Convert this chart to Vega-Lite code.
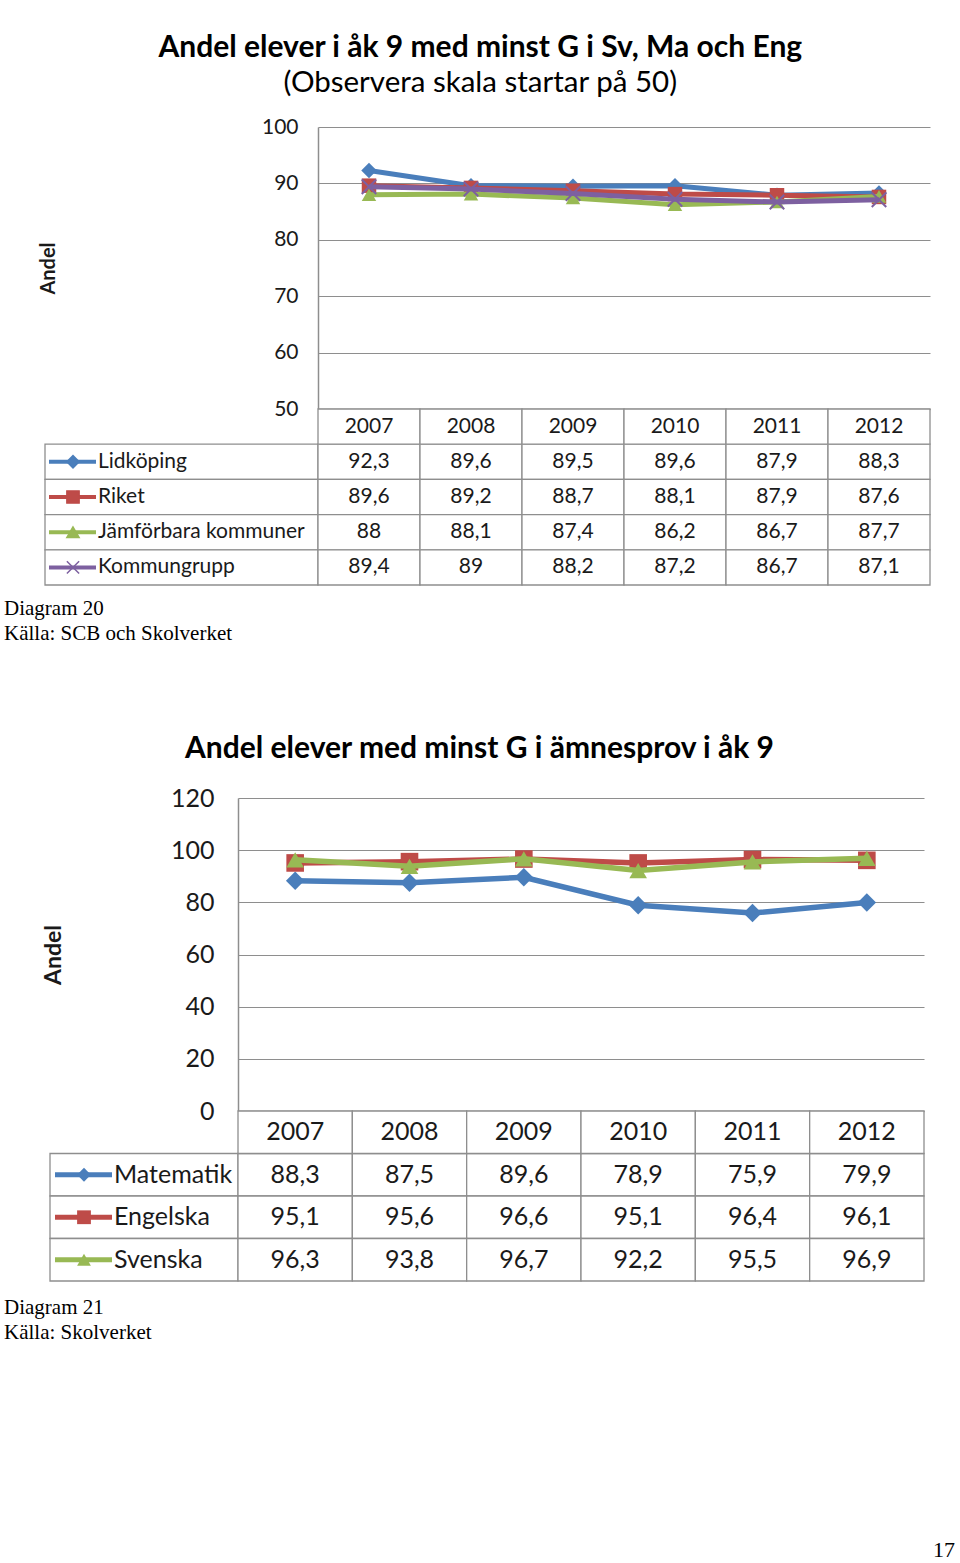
{
  "$schema": "https://vega.github.io/schema/vega-lite/v6.json",
  "background": "white",
  "padding": {"left": 4, "top": 32, "right": 0, "bottom": 0},
  "config": {
    "font": "Lato",
    "view": {"stroke": null},
    "axis": {"labelFont": "Lato", "labelColor": "#1a1a1a", "titleFont": "Lato", "titleColor": "#1a1a1a", "domainColor": "#8e8e8e", "gridColor": "#8e8e8e", "tickColor": "#8e8e8e"},
    "title": {"font": "Lato", "color": "#000000"},
    "locale": {"number": {"decimal": ",", "thousands": " ", "grouping": [3], "currency": ["", " kr"]}}
  },
  "datasets": {
    "c1": [
      {"series": "Lidköping", "year": 2007, "value": 92.3},
      {"series": "Lidköping", "year": 2008, "value": 89.6},
      {"series": "Lidköping", "year": 2009, "value": 89.5},
      {"series": "Lidköping", "year": 2010, "value": 89.6},
      {"series": "Lidköping", "year": 2011, "value": 87.9},
      {"series": "Lidköping", "year": 2012, "value": 88.3},
      {"series": "Riket", "year": 2007, "value": 89.6},
      {"series": "Riket", "year": 2008, "value": 89.2},
      {"series": "Riket", "year": 2009, "value": 88.7},
      {"series": "Riket", "year": 2010, "value": 88.1},
      {"series": "Riket", "year": 2011, "value": 87.9},
      {"series": "Riket", "year": 2012, "value": 87.6},
      {"series": "Jämförbara kommuner", "year": 2007, "value": 88},
      {"series": "Jämförbara kommuner", "year": 2008, "value": 88.1},
      {"series": "Jämförbara kommuner", "year": 2009, "value": 87.4},
      {"series": "Jämförbara kommuner", "year": 2010, "value": 86.2},
      {"series": "Jämförbara kommuner", "year": 2011, "value": 86.7},
      {"series": "Jämförbara kommuner", "year": 2012, "value": 87.7},
      {"series": "Kommungrupp", "year": 2007, "value": 89.4},
      {"series": "Kommungrupp", "year": 2008, "value": 89},
      {"series": "Kommungrupp", "year": 2009, "value": 88.2},
      {"series": "Kommungrupp", "year": 2010, "value": 87.2},
      {"series": "Kommungrupp", "year": 2011, "value": 86.7},
      {"series": "Kommungrupp", "year": 2012, "value": 87.1}
    ],
    "s1": [
      {"series": "Lidköping"},
      {"series": "Riket"},
      {"series": "Jämförbara kommuner"},
      {"series": "Kommungrupp"}
    ],
    "c2": [
      {"series": "Matematik", "year": 2007, "value": 88.3},
      {"series": "Matematik", "year": 2008, "value": 87.5},
      {"series": "Matematik", "year": 2009, "value": 89.6},
      {"series": "Matematik", "year": 2010, "value": 78.9},
      {"series": "Matematik", "year": 2011, "value": 75.9},
      {"series": "Matematik", "year": 2012, "value": 79.9},
      {"series": "Engelska", "year": 2007, "value": 95.1},
      {"series": "Engelska", "year": 2008, "value": 95.6},
      {"series": "Engelska", "year": 2009, "value": 96.6},
      {"series": "Engelska", "year": 2010, "value": 95.1},
      {"series": "Engelska", "year": 2011, "value": 96.4},
      {"series": "Engelska", "year": 2012, "value": 96.1},
      {"series": "Svenska", "year": 2007, "value": 96.3},
      {"series": "Svenska", "year": 2008, "value": 93.8},
      {"series": "Svenska", "year": 2009, "value": 96.7},
      {"series": "Svenska", "year": 2010, "value": 92.2},
      {"series": "Svenska", "year": 2011, "value": 95.5},
      {"series": "Svenska", "year": 2012, "value": 96.9}
    ],
    "s2": [
      {"series": "Matematik"},
      {"series": "Engelska"},
      {"series": "Svenska"}
    ]
  },
  "columns": 1,
  "align": "none",
  "spacing": 90,
  "concat": [
    {
      "title": {"text": "Andel elever i åk 9 med minst G i Sv, Ma och Eng", "subtitle": "(Observera skala startar på 50)", "fontSize": 30, "fontWeight": "bold", "subtitleFont": "Lato", "subtitleFontSize": 29.5, "subtitleFontWeight": "normal", "subtitleColor": "#000000", "subtitlePadding": 6, "anchor": "middle", "offset": 19, "dx": 13},
      "columns": 2,
      "spacing": 0,
      "bounds": "flush",
      "align": "each",
      "concat": [
        {"width": 273, "height": 282, "data": {"values": [{}]}, "mark": {"type": "point", "opacity": 0}},
        {
          "width": 612, "height": 282,
          "data": {"name": "c1"},
          "encoding": {
            "x": {"field": "year", "type": "ordinal", "scale": {"type": "band", "paddingInner": 0, "paddingOuter": 0}, "axis": {"title": null, "labels": false, "ticks": false, "domainColor": "#8e8e8e", "domainWidth": 1.5}},
            "y": {"field": "value", "type": "quantitative", "scale": {"domain": [50, 100], "nice": false, "zero": false}, "axis": {"values": [50, 60, 70, 80, 90, 100], "ticks": false, "labelPadding": 20, "labelFontSize": 21, "grid": true, "gridWidth": 1.2, "domainWidth": 1.5, "title": "Andel", "titleFontSize": 20, "titleFontWeight": "bold", "titlePadding": 203}},
            "color": {"field": "series", "type": "nominal", "scale": {"domain": ["Lidköping", "Riket", "Jämförbara kommuner", "Kommungrupp"], "range": ["#4a7ebb", "#be4b48", "#98b954", "#7d60a0"]}, "legend": null}
          },
          "layer": [
            {"transform": [{"filter": {"field": "series", "equal": "Lidköping"}}], "mark": {"type": "line", "strokeWidth": 5}},
            {"transform": [{"filter": {"field": "series", "equal": "Lidköping"}}], "mark": {"type": "point", "shape": "diamond", "filled": true, "size": 240, "opacity": 1}},
            {"transform": [{"filter": {"field": "series", "equal": "Riket"}}], "mark": {"type": "line", "strokeWidth": 5}},
            {"transform": [{"filter": {"field": "series", "equal": "Riket"}}], "mark": {"type": "point", "shape": "square", "filled": true, "size": 210, "opacity": 1}},
            {"transform": [{"filter": {"field": "series", "equal": "Jämförbara kommuner"}}], "mark": {"type": "line", "strokeWidth": 5}},
            {"transform": [{"filter": {"field": "series", "equal": "Jämförbara kommuner"}}], "mark": {"type": "point", "shape": "triangle-up", "filled": true, "size": 210, "opacity": 1}},
            {"transform": [{"filter": {"field": "series", "equal": "Kommungrupp"}}], "mark": {"type": "line", "strokeWidth": 5}},
            {"transform": [{"filter": {"field": "series", "equal": "Kommungrupp"}}], "mark": {"type": "point", "shape": "M-1,-1L1,1M-1,1L1,-1", "filled": false, "size": 210, "strokeWidth": 2, "opacity": 1}}
          ]
        },
        {
          "width": 273, "height": 176,
          "data": {"name": "s1"},
          "title": {"text": ["Diagram 20", "Källa: SCB och Skolverket"], "orient": "bottom", "anchor": "start", "frame": "group", "dx": -41, "offset": 12, "font": "Liberation Serif", "fontSize": 21, "fontWeight": "normal", "lineHeight": 25, "color": "#000000"},
          "encoding": {
            "y": {"field": "series", "type": "nominal", "scale": {"domain": ["År", "Lidköping", "Riket", "Jämförbara kommuner", "Kommungrupp"], "paddingInner": 0, "paddingOuter": 0}, "axis": null}
          },
          "layer": [
            {"mark": {"type": "rect", "fill": "white", "stroke": "#8e8e8e", "strokeWidth": 1.3}, "encoding": {"x": {"value": 0}, "x2": {"value": "width"}}},
            {"mark": {"type": "rule", "strokeWidth": 4}, "encoding": {"x": {"value": 4}, "x2": {"value": 51}, "color": {"field": "series", "type": "nominal", "scale": {"domain": ["Lidköping", "Riket", "Jämförbara kommuner", "Kommungrupp"], "range": ["#4a7ebb", "#be4b48", "#98b954", "#7d60a0"]}, "legend": null}}},
            {"mark": {"type": "point", "filled": true, "size": 150, "strokeWidth": 1.5, "opacity": 1}, "encoding": {
              "x": {"value": 28},
              "color": {"field": "series", "type": "nominal", "scale": {"domain": ["Lidköping", "Riket", "Jämförbara kommuner", "Kommungrupp"], "range": ["#4a7ebb", "#be4b48", "#98b954", "#7d60a0"]}, "legend": null},
              "stroke": {"field": "series", "type": "nominal", "scale": {"domain": ["Lidköping", "Riket", "Jämförbara kommuner", "Kommungrupp"], "range": ["#4a7ebb", "#be4b48", "#98b954", "#7d60a0"]}, "legend": null},
              "shape": {"field": "series", "type": "nominal", "scale": {"domain": ["Lidköping", "Riket", "Jämförbara kommuner", "Kommungrupp"], "range": ["diamond", "square", "triangle-up", "M-1,-1L1,1M-1,1L1,-1"]}, "legend": null}
            }},
            {"mark": {"type": "text", "align": "left", "baseline": "middle", "fontSize": 21, "color": "#1a1a1a"}, "encoding": {"x": {"value": 53}, "text": {"field": "series", "type": "nominal"}}}
          ]
        },
        {
          "width": 612, "height": 176,
          "data": {"name": "c1"},
          "encoding": {
            "x": {"field": "year", "type": "ordinal", "scale": {"type": "band", "paddingInner": 0, "paddingOuter": 0}, "axis": null},
            "y": {"field": "series", "type": "nominal", "scale": {"domain": ["År", "Lidköping", "Riket", "Jämförbara kommuner", "Kommungrupp"], "paddingInner": 0, "paddingOuter": 0}, "axis": null}
          },
          "layer": [
            {"mark": {"type": "rect", "fill": "white", "stroke": "#8e8e8e", "strokeWidth": 1.3}},
            {"mark": {"type": "text", "fontSize": 21, "color": "#1a1a1a", "baseline": "middle"}, "encoding": {"text": {"field": "value", "type": "quantitative", "format": "~f"}}},
            {
              "transform": [{"aggregate": [{"op": "count", "as": "n"}], "groupby": ["year"]}],
              "layer": [
                {"mark": {"type": "rect", "fill": "white", "stroke": "#8e8e8e", "strokeWidth": 1.3}, "encoding": {"y": {"datum": "År", "type": "nominal"}}},
                {"mark": {"type": "text", "fontSize": 21, "color": "#1a1a1a", "baseline": "middle"}, "encoding": {"y": {"datum": "År", "type": "nominal"}, "text": {"field": "year", "type": "ordinal"}}}
              ]
            }
          ]
        }
      ]
    },
    {
      "title": {"text": "Andel elever med minst G i ämnesprov i åk 9", "fontSize": 30, "fontWeight": "bold", "anchor": "middle", "offset": 22},
      "columns": 3,
      "spacing": 0,
      "bounds": "flush",
      "align": "each",
      "concat": [
        {"width": 5, "height": 313, "data": {"values": [{}]}, "mark": {"type": "point", "opacity": 0}},
        {"width": 188, "height": 313, "data": {"values": [{}]}, "mark": {"type": "point", "opacity": 0}},
        {
          "width": 686, "height": 313,
          "data": {"name": "c2"},
          "encoding": {
            "x": {"field": "year", "type": "ordinal", "scale": {"type": "band", "paddingInner": 0, "paddingOuter": 0}, "axis": {"title": null, "labels": false, "ticks": false, "domainColor": "#8e8e8e", "domainWidth": 1.5}},
            "y": {"field": "value", "type": "quantitative", "scale": {"domain": [0, 120], "nice": false}, "axis": {"values": [0, 20, 40, 60, 80, 100, 120], "ticks": false, "labelPadding": 24, "labelFontSize": 25, "grid": true, "gridWidth": 1.2, "domainWidth": 1.5, "title": "Andel", "titleFontSize": 23, "titleFontWeight": "bold", "titlePadding": 105}},
            "color": {"field": "series", "type": "nominal", "scale": {"domain": ["Matematik", "Engelska", "Svenska"], "range": ["#4a7ebb", "#be4b48", "#98b954"]}, "legend": null}
          },
          "layer": [
            {"transform": [{"filter": {"field": "series", "equal": "Matematik"}}], "mark": {"type": "line", "strokeWidth": 5.5}},
            {"transform": [{"filter": {"field": "series", "equal": "Matematik"}}], "mark": {"type": "point", "shape": "diamond", "filled": true, "size": 340, "opacity": 1}},
            {"transform": [{"filter": {"field": "series", "equal": "Engelska"}}], "mark": {"type": "line", "strokeWidth": 5.5}},
            {"transform": [{"filter": {"field": "series", "equal": "Engelska"}}], "mark": {"type": "point", "shape": "square", "filled": true, "size": 310, "opacity": 1}},
            {"transform": [{"filter": {"field": "series", "equal": "Svenska"}}], "mark": {"type": "line", "strokeWidth": 5.5}},
            {"transform": [{"filter": {"field": "series", "equal": "Svenska"}}], "mark": {"type": "point", "shape": "triangle-up", "filled": true, "size": 310, "opacity": 1}}
          ]
        },
        {"width": 5, "height": 170, "data": {"values": [{}]}, "mark": {"type": "point", "opacity": 0}},
        {
          "width": 188, "height": 170,
          "data": {"name": "s2"},
          "title": {"text": ["Diagram 21", "Källa: Skolverket"], "orient": "bottom", "anchor": "start", "frame": "group", "dx": -46, "offset": 15, "font": "Liberation Serif", "fontSize": 21, "fontWeight": "normal", "lineHeight": 25, "color": "#000000"},
          "encoding": {
            "y": {"field": "series", "type": "nominal", "scale": {"domain": ["År", "Matematik", "Engelska", "Svenska"], "paddingInner": 0, "paddingOuter": 0}, "axis": null}
          },
          "layer": [
            {"mark": {"type": "rect", "fill": "white", "stroke": "#8e8e8e", "strokeWidth": 1.3}, "encoding": {"x": {"value": 0}, "x2": {"value": "width"}}},
            {"mark": {"type": "rule", "strokeWidth": 5}, "encoding": {"x": {"value": 5}, "x2": {"value": 62}, "color": {"field": "series", "type": "nominal", "scale": {"domain": ["Matematik", "Engelska", "Svenska"], "range": ["#4a7ebb", "#be4b48", "#98b954"]}, "legend": null}}},
            {"mark": {"type": "point", "filled": true, "size": 190, "strokeWidth": 1.5, "opacity": 1}, "encoding": {
              "x": {"value": 34},
              "color": {"field": "series", "type": "nominal", "scale": {"domain": ["Matematik", "Engelska", "Svenska"], "range": ["#4a7ebb", "#be4b48", "#98b954"]}, "legend": null},
              "shape": {"field": "series", "type": "nominal", "scale": {"domain": ["Matematik", "Engelska", "Svenska"], "range": ["diamond", "square", "triangle-up"]}, "legend": null}
            }},
            {"mark": {"type": "text", "align": "left", "baseline": "middle", "fontSize": 25, "color": "#1a1a1a"}, "encoding": {"x": {"value": 64}, "text": {"field": "series", "type": "nominal"}}}
          ]
        },
        {
          "width": 686, "height": 170,
          "data": {"name": "c2"},
          "title": {"text": "17", "orient": "bottom", "anchor": "end", "frame": "group", "dx": 31, "offset": 258, "font": "Liberation Serif", "fontSize": 22, "fontWeight": "normal", "color": "#000000"},
          "encoding": {
            "x": {"field": "year", "type": "ordinal", "scale": {"type": "band", "paddingInner": 0, "paddingOuter": 0}, "axis": null},
            "y": {"field": "series", "type": "nominal", "scale": {"domain": ["År", "Matematik", "Engelska", "Svenska"], "paddingInner": 0, "paddingOuter": 0}, "axis": null}
          },
          "layer": [
            {"mark": {"type": "rect", "fill": "white", "stroke": "#8e8e8e", "strokeWidth": 1.3}},
            {"mark": {"type": "text", "fontSize": 25, "color": "#1a1a1a", "baseline": "middle"}, "encoding": {"text": {"field": "value", "type": "quantitative", "format": "~f"}}},
            {
              "transform": [{"aggregate": [{"op": "count", "as": "n"}], "groupby": ["year"]}],
              "layer": [
                {"mark": {"type": "rect", "fill": "white", "stroke": "#8e8e8e", "strokeWidth": 1.3}, "encoding": {"y": {"datum": "År", "type": "nominal"}}},
                {"mark": {"type": "text", "fontSize": 25, "color": "#1a1a1a", "baseline": "middle"}, "encoding": {"y": {"datum": "År", "type": "nominal"}, "text": {"field": "year", "type": "ordinal"}}}
              ]
            }
          ]
        }
      ]
    }
  ]
}
